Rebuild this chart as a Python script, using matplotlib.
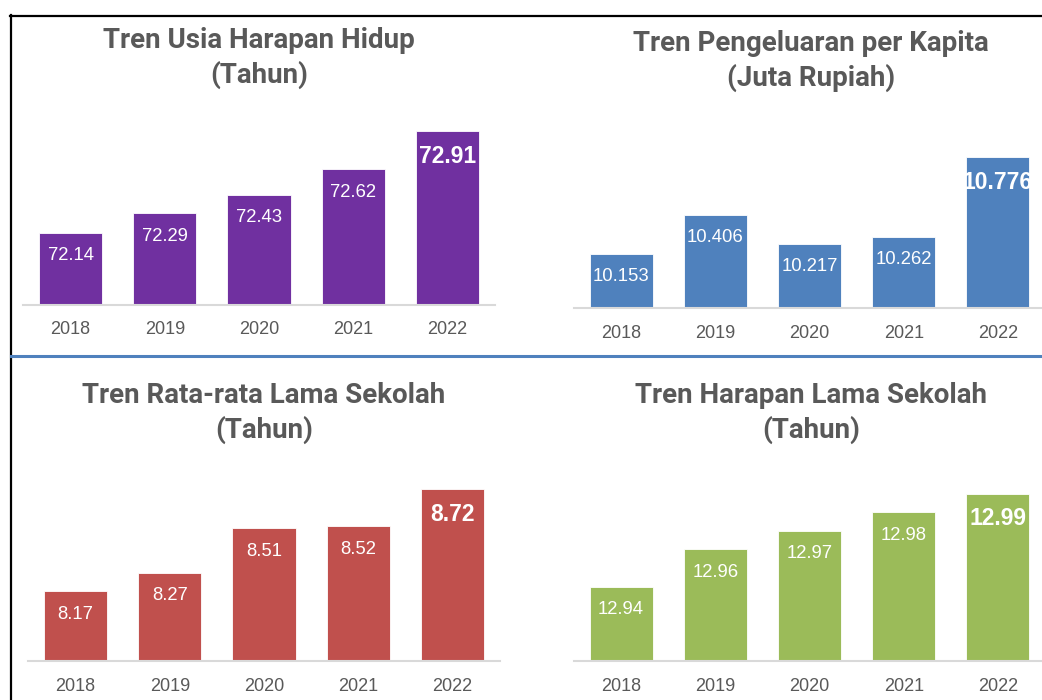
import matplotlib.pyplot as plt
from matplotlib.lines import Line2D

# --- data ---
tahun = ["2018", "2019", "2020", "2021", "2022"]

uhh = [72.14, 72.29, 72.43, 72.62, 72.91]          # usia harapan hidup
pengeluaran = [10.153, 10.406, 10.217, 10.262, 10.776]  # juta rupiah
rls = [8.17, 8.27, 8.51, 8.52, 8.72]                 # rata-rata lama sekolah
hls = [12.94, 12.96, 12.97, 12.98, 12.99]            # harapan lama sekolah

judul = ["Tren Usia Harapan Hidup\n(Tahun)",
         "Tren Pengeluaran per Kapita\n(Juta Rupiah)",
         "Tren Rata-rata Lama Sekolah\n(Tahun)",
         "Tren Harapan Lama Sekolah\n(Tahun)"]
fmt = ["{:.2f}", "{:.3f}", "{:.2f}", "{:.2f}"]
warna = ["#7030A0", "#4F81BD", "#C0504D", "#9BBB59"]

W, H = 1042, 700
fig = plt.figure(figsize=(W / 100, H / 100), dpi=100)

def px(x0, ytop, x1, ybot):
    # pixel box -> figure fraction [left, bottom, width, height]
    return [x0 / W, 1 - ybot / H, (x1 - x0) / W, (ybot - ytop) / H]

# axes boxes in pixels (left, top, right, baseline) + y-limits
kotak = [(23.5, 110, 494.5, 304.5), (574, 110, 1045, 308),
         (28.5, 470, 499.5, 661), (574, 470, 1045, 661)]
batas = [(71.6, 73.069), (9.806, 11.078), (7.794, 8.824), (12.90, 13.0027)]
pos_judul = [(259, 58), (811, 61), (264, 413), (811, 413)]

semua = [uhh, pengeluaran, rls, hls]

for k in range(4):
    ax = fig.add_axes(px(*kotak[k]))
    nilai = semua[k]
    ax.bar(range(5), nilai, width=0.67, color=warna[k],
           edgecolor="white", linewidth=0.6)
    ax.set_xlim(-0.5, 4.5)
    ax.set_ylim(*batas[k])
    for s in ["top", "left", "right"]:
        ax.spines[s].set_visible(False)
    ax.spines["bottom"].set_color("#D9D9D9")
    ax.spines["bottom"].set_linewidth(1.5)
    ax.set_yticks([])
    ax.set_xticks(range(5), tahun)
    ax.tick_params(axis="x", length=0, pad=12, labelsize=13,
                   labelcolor="#595959")
    for t in ax.get_xticklabels():
        t.set_fontfamily("Liberation Sans")
    for i, v in enumerate(nilai):
        terakhir = i == len(nilai) - 1
        ax.annotate(fmt[k].format(v), (i, v),
                    xytext=(0, -18 if terakhir else -16.5),
                    textcoords="offset points", ha="center", va="center",
                    color="white", family="Liberation Sans",
                    fontsize=16.5 if terakhir else 13.3,
                    fontweight="bold" if terakhir else "normal")
    tx, ty = pos_judul[k]
    fig.text(tx / W, 1 - ty / H, judul[k], ha="center", va="center",
             family="Roboto", fontweight="bold", fontsize=20,
             color="#595959", linespacing=1.33)

# bingkai dan garis pemisah
fig.add_artist(Line2D([10 / W, 1], [1 - 15.5 / H, 1 - 15.5 / H],
                      color="black", lw=1.6))
fig.add_artist(Line2D([10.5 / W, 10.5 / W], [0, 1 - 15 / H],
                      color="black", lw=1.6))
fig.add_artist(Line2D([11 / W, 1], [1 - 356 / H, 1 - 356 / H],
                      color="#4F81BD", lw=2.2))

fig.savefig("out.png", dpi=100)
